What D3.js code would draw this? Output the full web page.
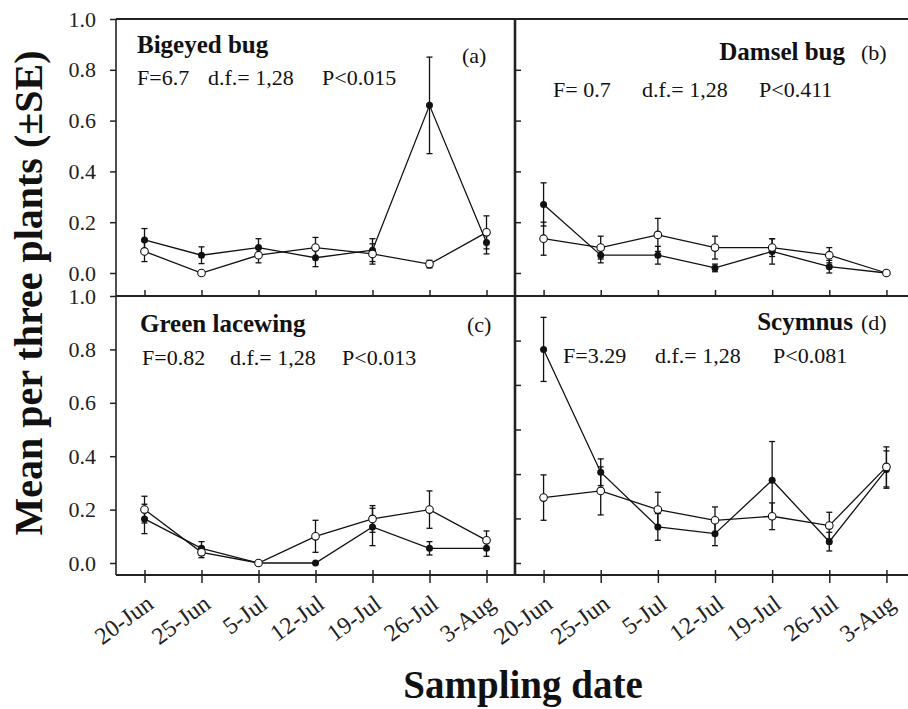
<!DOCTYPE html>
<html lang="en">
<head>
    <meta charset="UTF-8">
    <title>Sampling date</title>
    <script src="https://cdn.jsdelivr.net/npm/d3@7"></script>
    <style>
        body {
            margin: 0;
            background: #fff;
        }
        svg text {
            font-family: "Liberation Serif", "Times New Roman", serif;
            fill: #111;
        }
    </style>
</head>
<body>
<svg id="graphDiv" width="908" height="709"></svg>
<script>
    // sampling dates (x axis)
    var dates = ["20-Jun", "25-Jun", "5-Jul", "12-Jul", "19-Jul", "26-Jul", "3-Aug"];

    // y tick values
    var yTicks = [0, 0.2, 0.4, 0.6, 0.8, 1.0];
    var yTicksRight = [0, 0.2, 0.4, 0.6, 0.8];
    var yTicksScymnus = [0, 0.167, 0.333, 0.5, 0.667, 0.833];

    // (a) Bigeyed bug
    var bigeyedFilled = [0.13, 0.07, 0.10, 0.06, 0.09, 0.66, 0.12];
    var bigeyedFilledSE = [0.045, 0.033, 0.035, 0.035, 0.045, 0.19, 0.045];
    var bigeyedOpen = [0.085, 0.0, 0.07, 0.10, 0.075, 0.035, 0.16];
    var bigeyedOpenSE = [0.04, 0.0, 0.03, 0.04, 0.04, 0.015, 0.065];

    // (b) Damsel bug
    var damselFilled = [0.27, 0.07, 0.07, 0.02, 0.085, 0.025, 0.0];
    var damselFilledSE = [0.085, 0.03, 0.035, 0.015, 0.05, 0.025, 0.0];
    var damselOpen = [0.135, 0.10, 0.15, 0.10, 0.10, 0.07, 0.0];
    var damselOpenSE = [0.065, 0.045, 0.065, 0.045, 0.035, 0.03, 0.0];

    // (c) Green lacewing
    var lacewingFilled = [0.165, 0.055, 0.0, 0.0, 0.135, 0.055, 0.055];
    var lacewingFilledSE = [0.055, 0.025, 0.0, 0.0, 0.07, 0.025, 0.03];
    var lacewingOpen = [0.20, 0.04, 0.0, 0.10, 0.165, 0.20, 0.085];
    var lacewingOpenSE = [0.05, 0.02, 0.0, 0.06, 0.05, 0.07, 0.035];

    // (d) Scymnus
    var scymnusFilled = [0.80, 0.34, 0.135, 0.11, 0.31, 0.08, 0.35];
    var scymnusFilledSE = [0.12, 0.05, 0.05, 0.045, 0.145, 0.035, 0.07];
    var scymnusOpen = [0.245, 0.27, 0.20, 0.16, 0.175, 0.14, 0.36];
    var scymnusOpenSE = [0.085, 0.09, 0.065, 0.05, 0.05, 0.05, 0.075];

    var svg = d3.select("#graphDiv");

    // panel geometry
    var xLeft = d3.scalePoint().domain(dates).range([116, 515]).padding(0.5);
    var xRight = d3.scalePoint().domain(dates).range([515, 915]).padding(0.5);
    var yTop = d3.scaleLinear().domain([0, 1]).range([273, 19]);
    var yBottom = d3.scaleLinear().domain([0, 1]).range([563, 296]);

    var frameColor = "#222";

    // horizontal frame lines
    [19, 296, 575].forEach(function (y) {
        svg.append("line")
            .attr("x1", 116).attr("x2", 908)
            .attr("y1", y).attr("y2", y)
            .style("stroke", frameColor).style("stroke-width", 2);
    });
    // left axis and middle divider
    svg.append("line")
        .attr("x1", 116).attr("x2", 116).attr("y1", 19).attr("y2", 575)
        .style("stroke", frameColor).style("stroke-width", 1.6);
    svg.append("line")
        .attr("x1", 515).attr("x2", 515).attr("y1", 19).attr("y2", 575)
        .style("stroke", frameColor).style("stroke-width", 2.6);

    function styleAxis(g) {
        g.select(".domain").remove();
        g.selectAll(".tick line").style("stroke", frameColor).style("stroke-width", 1.5);
        g.selectAll(".tick text")
            .style("font-family", "'Liberation Serif', serif")
            .style("font-size", "22px")
            .style("fill", "#222");
    }

    // y axes with labels (left panels)
    svg.append("g").attr("transform", "translate(116,0)")
        .call(d3.axisLeft(yTop).tickValues(yTicks).tickSize(6).tickPadding(14).tickFormat(d3.format(".1f")))
        .call(styleAxis);
    svg.append("g").attr("transform", "translate(116,0)")
        .call(d3.axisLeft(yBottom).tickValues(yTicks).tickSize(6).tickPadding(14).tickFormat(d3.format(".1f")))
        .call(styleAxis);

    // inner ticks on the right panels
    svg.append("g").attr("transform", "translate(515,0)")
        .call(d3.axisRight(yTop).tickValues(yTicksRight).tickSize(6).tickFormat(""))
        .call(styleAxis);
    svg.append("g").attr("transform", "translate(515,0)")
        .call(d3.axisRight(yBottom).tickValues(yTicksScymnus).tickSize(6).tickFormat(""))
        .call(styleAxis);

    // x ticks
    [xLeft, xRight].forEach(function (xs) {
        svg.append("g").attr("transform", "translate(0,296)")
            .call(d3.axisTop(xs).tickSize(6).tickFormat(""))
            .call(styleAxis);
        svg.append("g").attr("transform", "translate(0,575)")
            .call(d3.axisTop(xs).tickSize(5).tickFormat(""))
            .call(styleAxis);
        var g = svg.append("g").attr("transform", "translate(0,575)")
            .call(d3.axisBottom(xs).tickSize(8))
            .call(styleAxis);
        g.selectAll(".tick text")
            .attr("text-anchor", "end")
            .attr("x", 0).attr("y", 0).attr("dy", 0)
            .style("font-size", "24px")
            .attr("transform", "translate(10,32) rotate(-36)");
    });

    // one panel of two series with error bars
    function drawPanel(xs, ys, filled, filledSE, open, openSE) {
        var g = svg.append("g");
        var line = d3.line()
            .x(function (d, i) { return xs(dates[i]); })
            .y(function (d) { return ys(d); });

        [[filled, filledSE], [open, openSE]].forEach(function (s) {
            var vals = s[0], se = s[1];
            g.append("path").datum(vals)
                .attr("d", line)
                .style("fill", "none")
                .style("stroke", "#111")
                .style("stroke-width", 1.3);

            var bars = g.selectAll(null).data(vals).enter().append("g")
                .attr("transform", function (d, i) { return "translate(" + xs(dates[i]) + ",0)"; });
            bars.append("line")
                .attr("y1", function (d, i) { return ys(d + se[i]); })
                .attr("y2", function (d, i) { return ys(Math.max(0, d - se[i])); })
                .style("stroke", "#111").style("stroke-width", 1.3);
            bars.append("line")
                .attr("x1", -3).attr("x2", 3)
                .attr("y1", function (d, i) { return ys(d + se[i]); })
                .attr("y2", function (d, i) { return ys(d + se[i]); })
                .style("stroke", "#111").style("stroke-width", 1.3);
            bars.append("line")
                .attr("x1", -3).attr("x2", 3)
                .attr("y1", function (d, i) { return ys(Math.max(0, d - se[i])); })
                .attr("y2", function (d, i) { return ys(Math.max(0, d - se[i])); })
                .style("stroke", "#111").style("stroke-width", 1.3);
        });

        // markers on top
        g.selectAll(null).data(filled).enter().append("circle")
            .attr("cx", function (d, i) { return xs(dates[i]); })
            .attr("cy", function (d) { return ys(d); })
            .attr("r", 3.5)
            .style("fill", "#111");
        g.selectAll(null).data(open).enter().append("circle")
            .attr("cx", function (d, i) { return xs(dates[i]); })
            .attr("cy", function (d) { return ys(d); })
            .attr("r", 3.8)
            .style("fill", "#fff")
            .style("stroke", "#111")
            .style("stroke-width", 1.1);
    }

    drawPanel(xLeft, yTop, bigeyedFilled, bigeyedFilledSE, bigeyedOpen, bigeyedOpenSE);
    drawPanel(xRight, yTop, damselFilled, damselFilledSE, damselOpen, damselOpenSE);
    drawPanel(xLeft, yBottom, lacewingFilled, lacewingFilledSE, lacewingOpen, lacewingOpenSE);
    drawPanel(xRight, yBottom, scymnusFilled, scymnusFilledSE, scymnusOpen, scymnusOpenSE);

    // panel texts
    function title(x, y, txt, anchor) {
        svg.append("text").attr("x", x).attr("y", y)
            .attr("text-anchor", anchor || "start")
            .style("font-size", "25px").style("font-weight", "bold")
            .text(txt);
    }
    function label(x, y, txt) {
        svg.append("text").attr("x", x).attr("y", y)
            .style("font-size", "22px")
            .text(txt);
    }

    title(137, 53, "Bigeyed bug");
    label(462, 63, "(a)");
    label(137, 85, "F=6.7");
    label(208, 85, "d.f.= 1,28");
    label(322, 85, "P<0.015");

    title(845, 60, "Damsel bug", "end");
    label(861, 60, "(b)");
    label(553, 97, "F= 0.7");
    label(642, 97, "d.f.= 1,28");
    label(759, 97, "P<0.411");

    title(140, 332, "Green lacewing");
    label(467, 332, "(c)");
    label(142, 365, "F=0.82");
    label(230, 365, "d.f.= 1,28");
    label(342, 365, "P<0.013");

    title(853, 330, "Scymnus", "end");
    label(861, 330, "(d)");
    label(563, 363, "F=3.29");
    label(655, 363, "d.f.= 1,28");
    label(773, 363, "P<0.081");

    // axis titles
    svg.append("text")
        .attr("transform", "translate(42,293) rotate(-90)")
        .attr("text-anchor", "middle")
        .style("font-size", "40px").style("font-weight", "bold")
        .text("Mean per three plants (\u00B1SE)");
    svg.append("text")
        .attr("x", 523).attr("y", 698)
        .attr("text-anchor", "middle")
        .style("font-size", "39px").style("font-weight", "bold")
        .text("Sampling date");
</script>
</body>
</html>
